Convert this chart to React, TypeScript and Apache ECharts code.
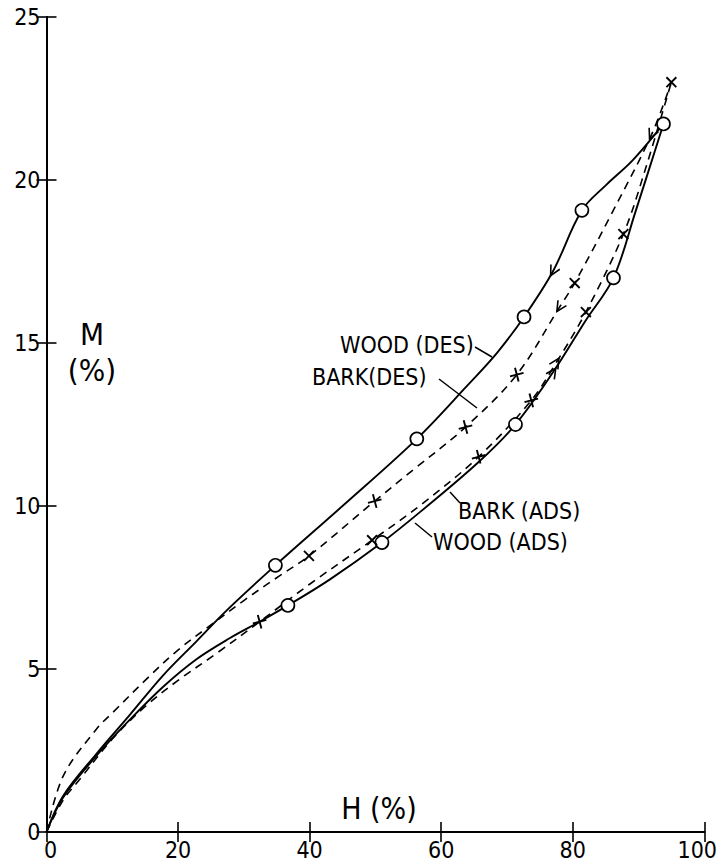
import React, { useEffect, useRef } from "react";
import * as echarts from "echarts";

type P = [number, number];

const xTickValues = [0, 20, 40, 60, 80, 100];
const yTickValues = [0, 5, 10, 15, 20, 25];

// Curves (H %, M %)
const woodDes: P[] = [
  [0, 0], [2.5, 1.1], [7.6, 2.4], [12.7, 3.6], [17.7, 4.8], [22.8, 5.85], [27.4, 6.8],
  [34.8, 8.18], [45, 10.0], [56.3, 12.06], [64, 13.7], [68.5, 14.7], [72.6, 15.8],
  [77, 17.2], [81.4, 19.07], [85.1, 19.85], [89.1, 20.6], [93.8, 21.72],
];
const woodAds: P[] = [
  [0, 0], [2.5, 1.05], [7.6, 2.34], [12.7, 3.45], [17.7, 4.45], [22.8, 5.3], [27.9, 5.95],
  [32.4, 6.45], [36.7, 6.95], [43.1, 7.75], [51, 8.88], [57, 9.85], [65.7, 11.35],
  [71.3, 12.5], [77, 14.1], [82, 15.7], [86.2, 17.0], [89.5, 19.0], [93.8, 21.72],
];
const barkDes: P[] = [
  [0, 0], [2.55, 1.72], [7.6, 3.16], [10.1, 3.67], [15.2, 4.69], [19.8, 5.55], [25, 6.35],
  [30, 7.1], [35, 7.8], [39.9, 8.47], [49.9, 10.15], [56, 11.15], [63.7, 12.42], [71.5, 14.03],
  [78, 16.1], [80.3, 16.84], [86, 19.0], [92, 21.4], [95, 23.0],
];
const barkAds: P[] = [
  [0, 0], [2.6, 1.0], [5, 1.6], [10, 2.85], [15, 3.85], [20, 4.65], [26, 5.5], [32.4, 6.45],
  [40, 7.6], [49.5, 8.95], [57, 10.05], [65.7, 11.51], [73.7, 13.24], [77.5, 14.4],
  [82, 15.95], [87.7, 18.34], [91, 20.3], [95, 23.0],
];

// Markers
const woodCircles: P[] = [[34.8, 8.18], [56.3, 12.06], [72.6, 15.8], [81.4, 19.07], [93.8, 21.72],
  [36.7, 6.95], [51, 8.88], [71.3, 12.5], [86.2, 17.0]];
const barkPlus: P[] = [[49.9, 10.15], [63.7, 12.42], [71.5, 14.03], [32.4, 6.45], [65.7, 11.51], [73.7, 13.24]];
const barkCross: P[] = [[95, 23.0], [80.3, 16.84], [39.9, 8.47], [49.5, 8.95], [82, 15.95], [87.7, 18.34]];

// Direction arrows: [curve, point, direction along H (+1 up, -1 down)]
const arrowDefs: { curve: P[]; pt: P; dir: number }[] = [
  { curve: woodDes, pt: [77, 17.2], dir: -1 },
  { curve: barkDes, pt: [78, 16.1], dir: -1 },
  { curve: barkDes, pt: [92, 21.4], dir: -1 },
  { curve: barkAds, pt: [77.5, 14.4], dir: 1 },
  { curve: woodAds, pt: [77, 14.1], dir: 1 },
];

const FONT = '"DejaVu Sans Condensed", "DejaVu Sans", sans-serif';

export default function App() {
  const ref = useRef<HTMLDivElement>(null);
  useEffect(() => {
    if (!ref.current) return;
    const chart = echarts.init(ref.current, null, { renderer: "svg" });

    const axisLine = { show: true, lineStyle: { color: "#000", width: 2 } };
    const tick = { show: true, inside: true, length: 10, lineStyle: { color: "#000", width: 1.6 } };
    const curve = (name: string, data: P[], dashed: boolean) => ({
      name,
      type: "line",
      data,
      smooth: 0.35,
      symbol: "none",
      lineStyle: { color: "#000", width: dashed ? 1.6 : 1.9, type: dashed ? [8, 6] : "solid" },
      z: 2,
    });

    const crossStyle = { color: "rgba(0,0,0,0)", borderColor: "#000", borderWidth: 1.9, opacity: 1 };
    const baseSeries: any[] = [
      curve("WOOD (DES)", woodDes, false),
      curve("WOOD (ADS)", woodAds, false),
      curve("BARK (DES)", barkDes, true),
      curve("BARK (ADS)", barkAds, true),
      {
        type: "scatter",
        data: woodCircles,
        symbol: "circle",
        symbolSize: 13,
        itemStyle: { color: "#fff", borderColor: "#000", borderWidth: 1.7, opacity: 1 },
        z: 5,
      },
      {
        type: "scatter",
        data: barkPlus,
        symbol: "path://M5,0 L5,10 M0,5 L10,5",
        symbolSize: 14,
        symbolRotate: 15,
        itemStyle: crossStyle,
        z: 5,
      },
      {
        type: "scatter",
        data: barkCross,
        symbol: "path://M5,0 L5,10 M0,5 L10,5",
        symbolSize: 14,
        symbolRotate: 45,
        itemStyle: crossStyle,
        z: 5,
      },
    ];

    const T = (text: string, x: number, y: number, size: number, align = "left") => ({
      type: "text",
      x,
      y,
      style: { text, fontSize: size, fontFamily: FONT, fill: "#000", textAlign: align, textVerticalAlign: "middle" },
      z: 10,
    });
    const L = (x1: number, y1: number, x2: number, y2: number) => ({
      type: "line",
      shape: { x1, y1, x2, y2 },
      style: { stroke: "#000", lineWidth: 1.5 },
      z: 10,
    });

    const option: any = {
      animation: false,
      grid: { left: 46.5, right: 15, top: 17, bottom: 28, containLabel: false },
      xAxis: [
        {
          type: "value", min: 0, max: 100, interval: 20, position: "bottom",
          axisLine, axisTick: tick, splitLine: { show: false },
          axisLabel: {
            show: true, fontSize: 23, fontFamily: FONT, color: "#000", margin: 6,
            formatter: (v: number) => (v === 100 ? "{r|100}" : v === 0 ? "{l|0}" : String(v)),
            rich: {
              r: { fontSize: 23, fontFamily: FONT, color: "#000", padding: [0, 14, 0, 0] },
              l: { fontSize: 23, fontFamily: FONT, color: "#000", padding: [0, 0, 0, 8] },
            },
          },
        },
        {
          type: "value", min: 0, max: 100, interval: 20, position: "top",
          axisLine, axisTick: tick, axisLabel: { show: false }, splitLine: { show: false },
        },
      ],
      yAxis: [
        {
          type: "value", min: 0, max: 25, interval: 5, position: "left",
          axisLine, axisTick: tick, splitLine: { show: false },
          axisLabel: { show: true, fontSize: 23, fontFamily: FONT, color: "#000", margin: 6 },
        },
        {
          type: "value", min: 0, max: 25, interval: 5, position: "right",
          axisLine, axisTick: tick, axisLabel: { show: false }, splitLine: { show: false },
        },
      ],
      graphic: [
        T("M", 92, 334, 31, "center"),
        T("(%)", 92, 370, 31, "center"),
        T("H (%)", 379, 808, 30, "center"),
        T("WOOD (DES)", 340, 345, 23),
        L(475, 347, 492, 357),
        T("BARK(DES)", 312, 377, 23),
        L(439, 379, 477, 408),
        T("BARK (ADS)", 458, 511, 23),
        L(450, 492, 460, 503),
        T("WOOD (ADS)", 433, 542, 23),
        L(415, 523, 432, 537),
      ],
      series: baseSeries,
    };

    chart.setOption(option);

    const arrowData = arrowDefs.map((a) => {
      const i = a.curve.findIndex((p) => p[0] === a.pt[0] && p[1] === a.pt[1]);
      const p0 = chart.convertToPixel({ gridIndex: 0 }, a.curve[i - 1]) as number[];
      const p1 = chart.convertToPixel({ gridIndex: 0 }, a.curve[i + 1]) as number[];
      let dx = p1[0] - p0[0];
      let dy = p1[1] - p0[1];
      if (a.dir < 0) { dx = -dx; dy = -dy; }
      const ang = (Math.atan2(-dy, dx) * 180) / Math.PI;
      return { value: a.pt, symbolRotate: ang };
    });

    option.series = [
      ...baseSeries,
      {
        type: "scatter",
        data: arrowData,
        symbol: "path://M0,0 L10,5 L0,10",
        symbolSize: [10, 10],
        itemStyle: { color: "rgba(0,0,0,0)", borderColor: "#000", borderWidth: 1.6, opacity: 1 },
        z: 6,
      },
    ];
    chart.setOption(option, true);

    return () => chart.dispose();
  }, []);

  return (
    <div
      ref={ref}
      style={{ position: "fixed", left: 0, top: 0, width: 720, height: 861, background: "#fff" }}
    />
  );
}
